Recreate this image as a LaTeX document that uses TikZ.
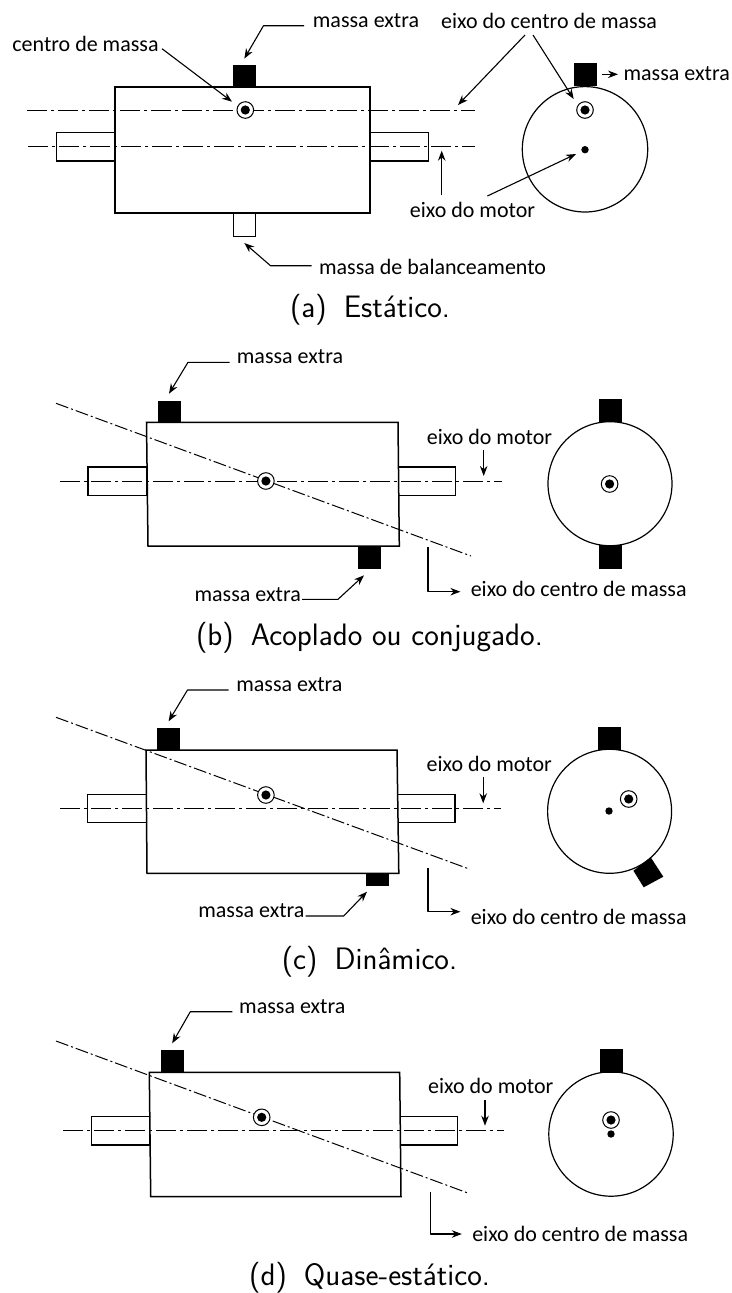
\documentclass[tikz,border=0pt]{standalone}
\usepackage{fontspec}
\newfontfamily\lblfont{Carlito}
\usetikzlibrary{arrows.meta}
\tikzset{
  disc/.style={line width=1.2pt,draw=black},
  shell/.style={line width=1.5pt,draw=black,fill=white,line join=miter},
  axisa/.style={line width=1pt,dash pattern=on 20pt off 4pt on 3pt off 4pt},
  axisb/.style={line width=1pt,dash pattern=on 13pt off 3pt on 2pt off 3pt},
  arr/.style={line width=1.1pt,-{Stealth[length=10pt,width=7.5pt]},line join=round},
  lbl/.style={font=\lblfont\fontsize{22}{26}\selectfont,inner sep=0pt,anchor=center,text=black},
  captxt/.style={font=\sffamily\fontsize{31}{36}\selectfont,inner sep=0pt,anchor=center,text=black},
  blk/.style={fill=black,draw=black,line width=.4pt,inner sep=0pt,outer sep=7pt,minimum width=22pt},
  wht/.style={fill=white,draw=black,line width=1pt,inner sep=0pt,outer sep=7pt,minimum width=22pt},
  ring/.style={circle,draw=black,fill=white,line width=1pt,minimum size=16.6pt,inner sep=0pt,
    path picture={\fill[black] (path picture bounding box.center) circle (4.6pt);}},
  dotmark/.style={circle,fill=black,minimum size=7.4pt,inner sep=0pt},
}
\begin{document}
\begin{tikzpicture}[x=1pt,y=-1pt]
\useasboundingbox[fill=white] (0,0) rectangle (731,1293);

%% ---------- (a) ----------
\node[blk,minimum height=21.3pt] (amtop) at (244.3,76.3) {};
\node[wht,minimum height=23pt] (ambal) at (244.3,224.5) {};
\draw[shell] (56.5,132.3) rectangle (115,161);
\draw[shell] (370,132.3) rectangle (428.6,161);
\draw[shell] (115,87) rectangle (370,213);
\draw[axisa] (27,110) -- (475,110);
\draw[axisa] (28,146.7) -- (475,146.7);
\node[ring] (acm) at (245.3,110) {};
\draw[disc] (585,149.3) circle[radius=62.7];
\node[blk,minimum height=22.3pt] (amr) at (585,73.9) {};
\node[ring] (acmr) at (585,110) {};
\node[dotmark] (adot) at (585,149.7) {};
\node[lbl] (amx) at (366,21) {massa extra};
\node[lbl] (aec) at (549,21) {eixo do centro de massa};
\node[lbl] (acd) at (85.5,43.7) {centro de massa};
\node[lbl] (amx2) at (676.7,74) {massa extra};
\node[lbl] (aem) at (472.5,210) {eixo do motor};
\node[lbl] (abal) at (432.6,267) {massa de balanceamento};
\node[captxt] (capa) at (370,310) {(a)\hspace{.55em}Estático.};
\coordinate (ak1) at (263.5,25.7);
\coordinate (ak1s) at (304,25.7);
\coordinate (ak2) at (270.5,265.7);
\coordinate (ak2s) at (311.6,265.7);
\coordinate (ac1) at (162,48.7);
\coordinate (ac1e) at (232,101.7);
\coordinate (ae1s) at (525,35);
\coordinate (ae1e) at (458,105);
\coordinate (ae2s) at (533,35);
\coordinate (ae2e) at (573.7,99);
\coordinate (am1s) at (601.7,74.3);
\coordinate (am1e) at (618,74.3);
\coordinate (am2s) at (487.4,196);
\coordinate (am2e) at (576,154);
\coordinate (am3s) at (441.7,195);
\coordinate (am3e) at (441.7,150.7);
\draw[arr] (ak1s) -- (ak1) -- (amtop.north);
\draw[arr] (ak2s) -- (ak2) -- (ambal.south);
\draw[arr] (ac1) -- (ac1e);
\draw[arr] (ae1s) -- (ae1e);
\draw[arr] (ae2s) -- (ae2e);
\draw[arr] (am1s) -- (am1e);
\draw[arr] (am2s) -- (am2e);
\draw[arr] (am3s) -- (am3e);

%% ---------- (b) ----------
\node[blk,minimum height=21.6pt] (bmt) at (169,411.5) {};
\node[blk,minimum height=22.3pt] (bmb) at (369,557.2) {};
\draw[shell] (88,467) rectangle (146.8,495.3);
\draw[shell] (398,467) rectangle (455.7,495.3);
\draw[shell] (146.5,422.3) -- (398,422.3) -- (399.3,546) -- (148,546) -- cycle;
\draw[axisa] (60,481) -- (502.3,481);
\draw[axisb] (56,403.3) -- (471,556);
\node[ring] (bcm) at (265.9,481) {};
\draw[disc] (610,483.7) circle[radius=62];
\node[blk,minimum height=22.7pt] (bmrt) at (610,410.3) {};
\node[blk,minimum height=22.3pt] (bmrb) at (610,556.8) {};
\node[ring] (bcmr) at (609.6,484) {};
\node[lbl] (bmx) at (290,357) {massa extra};
\node[lbl] (bem) at (489.5,436.7) {eixo do motor};
\node[lbl] (bec) at (578.7,589.3) {eixo do centro de massa};
\node[lbl] (bmx2) at (247.7,594.7) {massa extra};
\node[captxt] (capb) at (369.5,638) {(b)\hspace{.55em}Acoplado ou conjugado.};
\coordinate (bk1s) at (229.5,362.3);
\coordinate (bk1) at (188,362.3);
\coordinate (bk2s) at (302,599.3);
\coordinate (bk2) at (338,599.3);
\coordinate (bd1s) at (483.7,450);
\coordinate (bd1e) at (483.7,476);
\coordinate (bl1s) at (428,547.3);
\coordinate (bl1k) at (428,591.7);
\coordinate (bl1e) at (460.4,591.7);
\draw[arr] (bk1s) -- (bk1) -- (bmt.north);
\draw[arr] (bk2s) -- (bk2) -- ([xshift=-5pt]bmb.south);
\draw[arr] (bd1s) -- (bd1e);
\draw[arr] (bl1s) -- (bl1k) -- (bl1e);

%% ---------- (c) ----------
\node[blk,minimum height=21.7pt] (cmt) at (168.6,739.2) {};
\node[blk,minimum height=11.4pt] (cmb) at (377,879) {};
\draw[shell] (87.7,794.3) rectangle (146.3,822.7);
\draw[shell] (397,794.3) rectangle (455,822.7);
\draw[shell] (146,750) -- (397,750) -- (398.8,873.3) -- (147,873.3) -- cycle;
\draw[axisa] (60,808.3) -- (501.4,808.3);
\draw[axisb] (56,717.3) -- (470,869.3);
\node[ring] (ccm) at (265.9,795) {};
\draw[disc] (609.6,811.3) circle[radius=62];
\node[blk,minimum height=22.6pt] (cmrt) at (609.4,738) {};
\fill[black] (650.7,857.3) -- (663.3,876.7) -- (643.7,887.3) -- (633.4,870.7) -- cycle;
\node[ring] (ccmr) at (628.7,799) {};
\node[dotmark] (cdot) at (609,811) {};
\node[lbl] (cmx) at (289.4,685) {massa extra};
\node[lbl] (cem) at (489.3,764) {eixo do motor};
\node[lbl] (cec) at (578.7,916.7) {eixo do centro de massa};
\node[lbl] (cmx2) at (251.4,911) {massa extra};
\node[captxt] (capc) at (369.5,961.7) {(c)\hspace{.55em}Dinâmico.};
\coordinate (ck1s) at (228.5,690);
\coordinate (ck1) at (187.5,690);
\coordinate (ck2s) at (305.5,916);
\coordinate (ck2) at (343.7,916);
\coordinate (cd1s) at (483.2,777.3);
\coordinate (cd1e) at (483.2,803.3);
\coordinate (cl1s) at (428,868.3);
\coordinate (cl1k) at (428,911.7);
\coordinate (cl1e) at (460.4,911.7);
\draw[arr] (ck1s) -- (ck1) -- (cmt.north);
\draw[arr] (ck2s) -- (ck2) -- ([xshift=-10pt]cmb.south);
\draw[arr] (cd1s) -- (cd1e);
\draw[arr] (cl1s) -- (cl1k) -- (cl1e);

%% ---------- (d) ----------
\node[blk,minimum height=22pt] (dmt) at (172.2,1061.3) {};
\draw[shell] (91.4,1116.7) rectangle (149.6,1145);
\draw[shell] (399.7,1116.7) rectangle (457.6,1145);
\draw[shell] (149.3,1072.3) -- (399.7,1072.3) -- (401,1196.7) -- (150.7,1196.7) -- cycle;
\draw[axisa] (63.4,1130.7) -- (503.7,1130.7);
\draw[axisb] (56,1041) -- (468.7,1193.3);
\node[ring] (dcm) at (261.7,1117.3) {};
\draw[disc] (611,1134) circle[radius=62.2];
\node[blk,minimum height=23pt] (dmrt) at (610.8,1060.2) {};
\node[ring] (dcmr) at (611,1120) {};
\node[dotmark] (ddot) at (611,1134) {};
\node[lbl] (dmx) at (292.3,1006.7) {massa extra};
\node[lbl] (dem) at (490.8,1086) {eixo do motor};
\node[lbl] (dec) at (580.2,1234) {eixo do centro de massa};
\node[captxt] (capd) at (369.6,1277.7) {(d)\hspace{.55em}Quase-estático.};
\coordinate (dk1s) at (232.3,1011.7);
\coordinate (dk1) at (190.3,1011.7);
\coordinate (dd1s) at (485,1100);
\coordinate (dd1e) at (485,1125.7);
\coordinate (dl1s) at (430.5,1191.7);
\coordinate (dl1k) at (430.5,1234);
\coordinate (dl1e) at (461.8,1234);
\draw[arr] (dk1s) -- (dk1) -- (dmt.north);
\draw[arr] (dd1s) -- (dd1e);
\draw[arr] (dl1s) -- (dl1k) -- (dl1e);
\end{tikzpicture}
\end{document}
